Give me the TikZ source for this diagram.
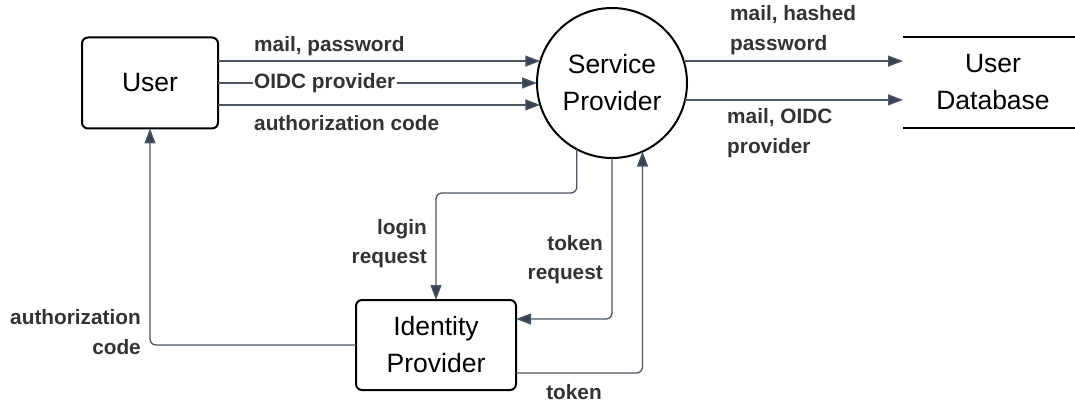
\documentclass[tikz,border=0pt]{standalone}
\usepackage{fontspec}
\setmainfont{Liberation Sans}
\usetikzlibrary{arrows.meta,calc}
\definecolor{conn}{HTML}{4B5563}
\definecolor{tipc}{HTML}{394150}
\definecolor{lbl}{HTML}{333333}
\begin{document}
\begin{tikzpicture}[x=1pt,y=-1pt,
  box/.style={draw=black,line width=2pt,rounded corners=6pt,inner sep=0pt,outer sep=0pt,align=center,font=\fontsize{26.5}{37}\selectfont},
  proc/.style={circle,draw=black,line width=2pt,minimum size=150pt,inner sep=0pt,outer sep=0pt,align=center,font=\fontsize{26.5}{37}\selectfont},
  store/.style={inner sep=0pt,outer sep=0pt,minimum width=180pt,minimum height=91pt,align=center,font=\fontsize{26.5}{37}\selectfont},
  flow/.style={draw=conn,line width=1.3pt,-{Triangle[length=15pt,width=11pt,fill=tipc]},rounded corners=6pt},
  lab/.style={inner sep=0pt,text=lbl,font=\bfseries\fontsize{20.8}{29.5}\selectfont}
]
\useasboundingbox (0,0) rectangle (1075,403);
% nodes
\node[box,minimum width=136pt,minimum height=91pt] (U) at (150,83) {User};
\node[proc] (SP) at (612,83) {Service\\Provider};
\node[box,minimum width=160pt,minimum height=90pt] (IdP) at (436,345) {Identity\\Provider};
\node[store] (DB) at (993,82.5) {User\\Database};
\draw[line width=2pt] (DB.north west) -- (DB.north east);
\draw[line width=2pt] (DB.south west) -- (DB.south east);
% user -> service provider
\draw[flow] (U.east |- SP.163.74) -- (SP.163.74);
\draw[flow] (U.east |- SP.west) -- (SP.west);
\draw[flow] (U.east |- SP.197.06) -- (SP.197.06);
\node[lab,anchor=west] (l1) at (254,46) {mail, password};
\node[lab,anchor=west,fill=white,inner xsep=1.5pt,inner ysep=2pt] (l2) at (252.5,83) {OIDC provider};
\node[lab,anchor=west] (l3) at (254,123) {authorization code};
% service provider -> database
\draw[flow] (SP.17.06) -- (SP.17.06 -| DB.west);
\draw[flow] (SP.-13.89) -- (SP.-13.89 -| DB.west);
\node[lab,anchor=west,align=left] (l4) at (730,30) {mail, hashed\\password};
\node[lab,anchor=west,align=left] (l5) at (727,133) {mail, OIDC\\provider};
% service provider <-> identity provider
\draw[flow] (SP.242.2) |- (IdP.north |- 0,193) -- (IdP.north);
\draw[flow] (SP.south) |- (IdP.east |- 0,319);
\draw[flow] (IdP.east |- 0,373) -| (SP.294.4);
\node[lab,anchor=east,align=right] (l6) at (427,243.5) {login\\request};
\node[lab,anchor=east,align=right] (l7) at (603,259.5) {token\\request};
\node[lab] (l8) at (574,392) {token};
% identity provider -> user
\draw[flow] (IdP.west) -| (U.south);
\node[lab,anchor=east,align=right] (l9) at (141,332) {authorization\\code};
\end{tikzpicture}
\end{document}
